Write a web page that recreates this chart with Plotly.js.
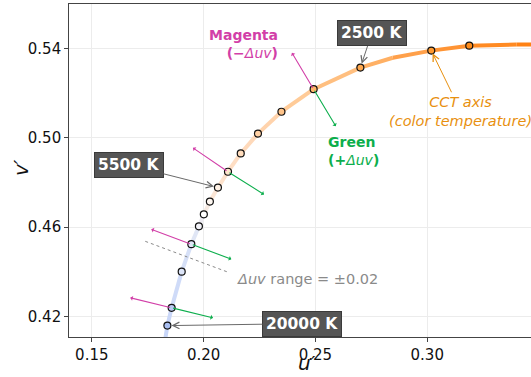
<!DOCTYPE html>
<html>
<head>
<meta charset="utf-8">
<script src="https://cdn.plot.ly/plotly-3.0.1.min.js"></script>
<style>html,body{margin:0;padding:0;background:#fff;}#chart{width:531px;height:377px;}</style>
</head>
<body>
<div id="chart"></div>
<script>
// Planckian locus sample points (marked circles)
const cctU = [0.1838, 0.1857, 0.1902, 0.1945, 0.1979, 0.2001, 0.2028, 0.2064, 0.2109, 0.2166, 0.2243, 0.2348, 0.2492, 0.2701, 0.3018, 0.3188];
const cctV = [0.4158, 0.4238, 0.4400, 0.4523, 0.4603, 0.4657, 0.4714, 0.4777, 0.4848, 0.4930, 0.5019, 0.5117, 0.5218, 0.5315, 0.5391, 0.5413];
const cctFill = ['#a9bff2','#b8caf3','#dde5f8','#e2e8f8','#f2f2f8','#ffffff','#fff8f2','#fff2e6','#ffe6cc','#ffdcbc','#ffd0a4','#ffc48a','#ffb56a','#ffa84e','#ff9a30','#ff8c1a'];

// Locus curve (line)
const locusU = [0.1821, 0.1838, 0.1857, 0.1902, 0.1945, 0.1979, 0.2001, 0.2028, 0.2064, 0.2109, 0.2166, 0.2243, 0.2348, 0.2492, 0.2701, 0.2846, 0.3018, 0.3188, 0.3400, 0.3600];
const locusV = [0.4050, 0.4158, 0.4238, 0.4400, 0.4523, 0.4603, 0.4657, 0.4714, 0.4777, 0.4848, 0.4930, 0.5019, 0.5117, 0.5218, 0.5315, 0.5359, 0.5391, 0.5413, 0.5418, 0.5420];
const locusColor = ['#c8d6f8','#cad7f8','#cfdbf8','#d6e0f7','#e0e6f5','#eceaf0','#f6eae2','#fbe6d6','#fde2cc','#fedec4','#fed9ba','#ffd3ac','#ffcb98','#ffbf80','#ffb064','#ffa04a','#ff9434','#ff8a22','#ff8214'];

// Isotherm (Δuv) lines: center on locus, magenta end (−Δuv), green end (+Δuv)
const isoU = [0.1857, 0.1945, 0.2109, 0.2492];
const isoV = [0.4238, 0.4523, 0.4848, 0.5218];
const isoMagU = [0.1672, 0.1766, 0.1952, 0.2395];
const isoMagV = [0.4283, 0.4590, 0.4955, 0.5381];
const isoGreenU = [0.2042, 0.2124, 0.2270, 0.2591];
const isoGreenV = [0.4193, 0.4456, 0.4746, 0.5052];

// Δuv range guide line
const rangeU = [0.1739, 0.2111];
const rangeV = [0.4536, 0.4397];

// Temperature labels
const tempLabels = ['20000 K', '5500 K', '2500 K'];
const tempPointIdx = [0, 7, 13];
const tempLabelU = [0.2440, 0.1666, 0.2752];
const tempLabelV = [0.4167, 0.4878, 0.5468];

const xTicks = [0.15, 0.20, 0.25, 0.30];
const yTicks = [0.42, 0.46, 0.50, 0.54];

const FONT = 'DejaVu Sans';
const MAG = '#d23fa8';
const GRN = '#0cae4c';
const ORG = '#e8900f';

const traces = [];
for (let i = 0; i < locusU.length - 1; i++) {
  traces.push({
    x: [locusU[i], locusU[i+1]], y: [locusV[i], locusV[i+1]],
    mode: 'lines', line: {color: locusColor[i], width: 4},
    hoverinfo: 'skip', showlegend: false
  });
}
traces.push({
  x: rangeU, y: rangeV, mode: 'lines',
  line: {color: '#8a8a8a', width: 1, dash: 'dot'},
  hoverinfo: 'skip', showlegend: false
});
traces.push({
  x: cctU, y: cctV, mode: 'markers',
  marker: {size: 7, color: cctFill, line: {color: '#111', width: 1.2}},
  showlegend: false
});

const annotations = [];
for (let i = 0; i < isoU.length; i++) {
  annotations.push({
    x: isoMagU[i], y: isoMagV[i], ax: isoU[i], ay: isoV[i],
    xref: 'x', yref: 'y', axref: 'x', ayref: 'y', text: '',
    showarrow: true, arrowhead: 1, arrowsize: 0.75, arrowwidth: 1.1, arrowcolor: MAG,
    standoff: 0, startstandoff: 0
  });
  annotations.push({
    x: isoGreenU[i], y: isoGreenV[i], ax: isoU[i], ay: isoV[i],
    xref: 'x', yref: 'y', axref: 'x', ayref: 'y', text: '',
    showarrow: true, arrowhead: 1, arrowsize: 0.75, arrowwidth: 1.1, arrowcolor: GRN,
    standoff: 0, startstandoff: 0
  });
}
for (let i = 0; i < tempLabels.length; i++) {
  const k = tempPointIdx[i];
  annotations.push({
    x: cctU[k], y: cctV[k], ax: tempLabelU[i], ay: tempLabelV[i],
    xref: 'x', yref: 'y', axref: 'x', ayref: 'y',
    text: '<b>' + tempLabels[i] + '</b>',
    font: {family: FONT, size: 15.5, color: '#ffffff'},
    bgcolor: '#555555', bordercolor: '#3a3a3a', borderwidth: 1, borderpad: 3,
    showarrow: true, arrowhead: 5, arrowsize: 1.3, arrowwidth: 1, arrowcolor: '#6a6a6a',
    standoff: 4
  });
}
annotations.push({
  x: 0.2340, y: 0.5422, xref: 'x', yref: 'y',
  text: '<b>Magenta</b><br><b>(−</b><i>Δuv</i><b>)</b>',
  font: {family: FONT, size: 14, color: MAG},
  xanchor: 'right', yanchor: 'middle', align: 'right', showarrow: false
});
annotations.push({
  x: 0.2546, y: 0.4943, xref: 'x', yref: 'y',
  text: '<b>Green</b><br><b>(+</b><i>Δuv</i><b>)</b>',
  font: {family: FONT, size: 14, color: GRN},
  xanchor: 'left', yanchor: 'middle', align: 'left', showarrow: false
});
annotations.push({
  x: cctU[14], y: cctV[14], ax: 0.3150, ay: 0.5119,
  xref: 'x', yref: 'y', axref: 'x', ayref: 'y',
  text: '<i>CCT axis</i><br><i>(color temperature)</i>',
  font: {family: FONT, size: 14.5, color: ORG}, align: 'center',
  showarrow: true, arrowhead: 5, arrowsize: 1.3, arrowwidth: 1, arrowcolor: ORG,
  standoff: 3
});
annotations.push({
  x: 0.2139, y: 0.4365, xref: 'x', yref: 'y',
  text: '<i>Δuv</i> range = ±0.02',
  font: {family: FONT, size: 14.5, color: '#8a8a8a'},
  xanchor: 'left', yanchor: 'middle', showarrow: false
});
// axis titles
annotations.push({
  x: 0.515, y: -0.077, xref: 'paper', yref: 'paper',
  text: '<i>u′</i>', font: {family: FONT, size: 20, color: '#111'},
  xanchor: 'center', yanchor: 'middle', showarrow: false
});
annotations.push({
  x: -0.104, y: 0.51, xref: 'paper', yref: 'paper',
  text: '<i>v′</i>', font: {family: FONT, size: 20, color: '#111'}, textangle: -90,
  xanchor: 'center', yanchor: 'middle', showarrow: false
});

const layout = {
  width: 531, height: 377,
  margin: {l: 69, r: 0, t: 4, b: 40},
  paper_bgcolor: '#ffffff', plot_bgcolor: '#ffffff',
  font: {family: FONT, color: '#111'},
  showlegend: false,
  xaxis: {
    range: [0.1398, 0.3464], tickvals: xTicks, ticktext: xTicks.map(v => v.toFixed(2)),
    showgrid: true, gridcolor: '#ececec', gridwidth: 1, zeroline: false,
    showline: true, linecolor: '#444', linewidth: 1.3, mirror: true,
    ticks: 'outside', ticklen: 3.5, tickcolor: '#444', tickwidth: 1,
    tickfont: {family: FONT, size: 15, color: '#111'}
  },
  yaxis: {
    range: [0.4107, 0.5600], tickvals: yTicks, ticktext: yTicks.map(v => v.toFixed(2)),
    showgrid: true, gridcolor: '#ececec', gridwidth: 1, zeroline: false,
    showline: true, linecolor: '#444', linewidth: 1.3, mirror: false,
    ticks: 'outside', ticklen: 3.5, tickcolor: '#444', tickwidth: 1,
    tickfont: {family: FONT, size: 15, color: '#111'}
  },
  annotations: annotations
};

Plotly.newPlot('chart', traces, layout, {displayModeBar: false, staticPlot: true});
</script>
</body>
</html>
